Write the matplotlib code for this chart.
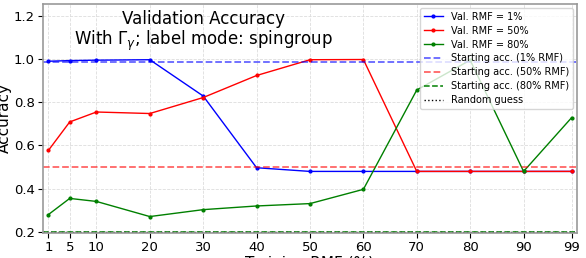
import numpy as np
import matplotlib
matplotlib.use("Agg")
import matplotlib.pyplot as plt

# Données
rmf = [1, 5, 10, 20, 30, 40, 50, 60, 70, 80, 90, 99]
acc_1 = [0.990, 0.993, 0.995, 0.997, 0.829, 0.497, 0.480, 0.480, 0.480, 0.480, 0.480, 0.480]
acc_50 = [0.577, 0.709, 0.755, 0.748, 0.822, 0.924, 0.997, 0.998, 0.480, 0.480, 0.480, 0.480]
acc_80 = [0.280, 0.355, 0.341, 0.271, 0.303, 0.320, 0.331, 0.397, 0.857, 0.995, 0.480, 0.729]
start_1 = 0.988
start_50 = 0.500
start_80 = 0.200
random_guess = 0.200
xticks = [1, 5, 10, 20, 30, 40, 50, 60, 70, 80, 90, 99]

fig = plt.figure(figsize=(5.86, 2.58), dpi=100)
ax = fig.add_axes([0.0734, 0.097, 0.9112, 0.8875])

ax.plot(rmf, acc_1, color="blue", marker="o", markersize=2, linewidth=1, label="Val. RMF = 1%")
ax.plot(rmf, acc_50, color="red", marker="o", markersize=2, linewidth=1, label="Val. RMF = 50%")
ax.plot(rmf, acc_80, color="green", marker="o", markersize=2, linewidth=1, label="Val. RMF = 80%")
ax.axhline(start_1, color="blue", linestyle="--", linewidth=1.3, alpha=0.6, label="Starting acc. (1% RMF)")
ax.axhline(start_50, color="red", linestyle="--", linewidth=1.3, alpha=0.6, label="Starting acc. (50% RMF)")
ax.axhline(start_80, color="green", linestyle="--", linewidth=1.1, label="Starting acc. (80% RMF)")
ax.axhline(random_guess, color="black", linestyle=":", linewidth=1, label="Random guess")

ax.set_xlim(0, 100)
ax.set_ylim(0.195, 1.255)
ax.set_xticks(xticks)
ax.set_yticks([0.2, 0.4, 0.6, 0.8, 1.0, 1.2])
ax.tick_params(labelsize=9.5, pad=2.5)
ax.grid(True, linestyle="--", color="#dddddd", linewidth=0.6)
for s in ax.spines.values():
    s.set_color("#999999")
    s.set_linewidth(1.2)

ax.set_xlabel("Training RMF (%)", fontsize=11, labelpad=1)
ax.set_ylabel("Accuracy", fontsize=11, labelpad=1)
ax.text(0.3, 0.975, "Validation Accuracy\nWith $\\Gamma_\\gamma$; label mode: spingroup",
        transform=ax.transAxes, ha="center", va="top", fontsize=12, linespacing=1.05)
ax.legend(loc="upper right", fontsize=7, framealpha=0.8, handlelength=2.0,
          labelspacing=0.4, borderaxespad=0.4)

plt.savefig("out.png", dpi=100)
